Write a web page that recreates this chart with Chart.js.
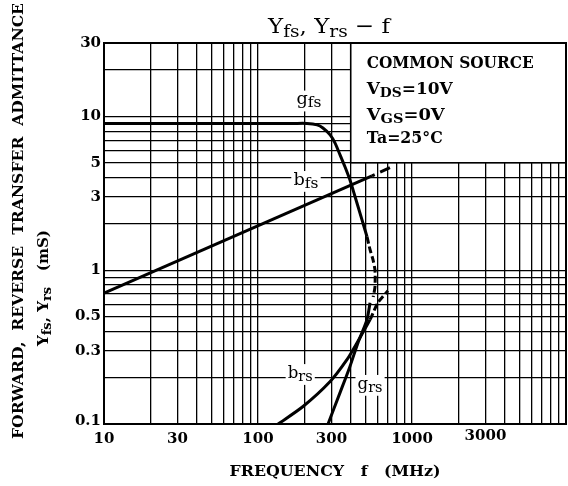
<!DOCTYPE html>
<html><head><meta charset="utf-8">
<script src="https://cdn.jsdelivr.net/npm/chart.js@4/dist/chart.umd.min.js"></script>
<style>html,body{margin:0;padding:0;background:#fff;}canvas{display:block;}</style>
</head><body>
<canvas id="c" width="568" height="486"></canvas>
<script>
// ---- data ----
const xTickLabels = [10, 30, 100, 300, 1000, 3000];
const yTickLabels = [30, 10, 5, 3, 1, 0.5, 0.3, 0.1];

const gfsFreq = [10, 100, 170, 208, 242, 264, 294, 316, 341, 367, 395, 414, 473, 510, 534, 558, 575, 575, 560];
const gfsVal  = [9.0, 9.0, 9.0, 9.0, 8.81, 8.41, 7.58, 6.73, 5.62, 4.70, 3.87, 3.33, 2.13, 1.65, 1.36, 1.17, 1.0, 0.78, 0.67];

const bfsFreq = [10, 550, 719];
const bfsVal  = [0.71, 4.1, 4.65];

const grsFreq = [285, 341, 395, 446, 510, 534];
const grsVal  = [0.1, 0.16, 0.236, 0.338, 0.477, 0.615];

const brsFreq = [135, 196, 294, 378, 440, 534, 601, 698];
const brsVal  = [0.1, 0.13, 0.189, 0.262, 0.338, 0.477, 0.615, 0.736];

const conditions = ['COMMON SOURCE', 'VDS=10V', 'VGS=0V', 'Ta=25°C'];

const FONT = '"DejaVu Serif", "Liberation Serif", serif';

function pts(fx, vy) { return fx.map((f, i) => ({x: f, y: vy[i]})); }
function decadeTicks(lo, hi) {
  const out = [];
  for (let e = -2; e <= 5; e++) {
    for (let m = 1; m <= 9; m++) {
      const v = +(m * Math.pow(10, e)).toPrecision(6);
      if (v >= lo - 1e-9 && v <= hi + 1e-9) out.push({value: v});
    }
  }
  return out;
}

function drawRich(ctx, segs, x, y, o) {
  const size = o.size, weight = o.weight || 'normal';
  const sub = Math.round(size * (o.subRatio || 0.8));
  const off = (o.subOff != null) ? o.subOff : size * 0.24;
  let w = 0; const ws = [];
  for (const [t, s] of segs) {
    ctx.font = `${weight} ${s ? sub : size}px ${FONT}`;
    const m = ctx.measureText(t).width; ws.push(m); w += m;
  }
  const k = o.target ? o.target / w : 1;
  ctx.save();
  ctx.translate(x, y);
  if (o.rotate) ctx.rotate(o.rotate);
  ctx.scale(k, 1);
  let cx = o.align === 'center' ? -w / 2 : (o.align === 'right' ? -w : 0);
  if (o.bg) {
    ctx.fillStyle = '#fff';
    ctx.fillRect(cx - 2, -size * 0.85, w + 4, size * 1.3);
  }
  ctx.fillStyle = '#000';
  ctx.textAlign = 'left';
  ctx.textBaseline = 'alphabetic';
  segs.forEach(([t, s], i) => {
    ctx.font = `${weight} ${s ? sub : size}px ${FONT}`;
    ctx.fillText(t, cx, s ? off : 0);
    cx += ws[i];
  });
  ctx.restore();
}

const curveLabels = [
  {segs: [['g', 0], ['fs', 1]], f: 214, v: 12.0},
  {segs: [['b', 0], ['fs', 1]], f: 205, v: 3.6},
  {segs: [['b', 0], ['rs', 1]], f: 188, v: 0.2},
  {segs: [['g', 0], ['rs', 1]], f: 534, v: 0.17},
];

const decor = {
  id: 'decor',
  beforeDatasetsDraw(chart) {
    const {ctx, scales: {x, y}} = chart;
    // conditions box (white, covering the grid)
    const bx = x.getPixelForValue(400), by = y.getPixelForValue(5);
    const rx = chart.chartArea.right, ty = chart.chartArea.top;
    ctx.save();
    ctx.fillStyle = '#fff';
    ctx.fillRect(bx, ty, rx - bx, by - ty);
    ctx.strokeStyle = '#000'; ctx.lineWidth = 1.6;
    ctx.beginPath(); ctx.moveTo(bx, ty); ctx.lineTo(bx, by); ctx.lineTo(rx, by); ctx.stroke();
    ctx.restore();
    const lx = bx + 16;
    drawRich(ctx, [[conditions[0], 0]], lx, 68, {size: 16, weight: 'bold', target: 167});
    drawRich(ctx, [['V', 0], ['DS', 1], ['=10V', 0]], lx, 94, {size: 16, weight: 'bold', target: 86, subOff: 3});
    drawRich(ctx, [['V', 0], ['GS', 1], ['=0V', 0]], lx, 120, {size: 16, weight: 'bold', target: 78, subOff: 3});
    drawRich(ctx, [['Ta=25°C', 0]], lx, 143, {size: 16, weight: 'bold', target: 76});
    // curve labels
    for (const L of curveLabels) {
      drawRich(ctx, L.segs, x.getPixelForValue(L.f), y.getPixelForValue(L.v),
        {size: 16, weight: 'normal', align: 'center', bg: true, subRatio: 0.88, subOff: 3, target: 25});
    }
  },
  afterDatasetsDraw(chart) {
    const {ctx, chartArea: a, scales: {x, y}} = chart;
    ctx.save();
    ctx.strokeStyle = '#000'; ctx.lineWidth = 2;
    ctx.strokeRect(a.left, a.top, a.right - a.left, a.bottom - a.top);
    ctx.fillStyle = '#000';
    ctx.font = `bold 15px ${FONT}`;
    ctx.textAlign = 'right'; ctx.textBaseline = 'middle';
    for (const v of yTickLabels) {
      let py = y.getPixelForValue(v);
      if (v === 0.1) py -= 3;
      ctx.fillText(String(v), a.left - 3, py);
    }
    ctx.textAlign = 'center';
    for (const v of xTickLabels) {
      const py = v === 3000 ? a.bottom + 12 : a.bottom + 15;
      ctx.fillText(String(v), x.getPixelForValue(v), py);
    }
    ctx.restore();
    // title
    drawRich(ctx, [['Y', 0], ['fs', 1], [', ', 0], ['Y', 0], ['rs', 1], [' \u2212 ', 0], ['f', 0]], 329, 33,
      {size: 21, weight: 'normal', align: 'center', target: 122, subRatio: 0.8, subOff: 4});
    // x axis title
    drawRich(ctx, [['FREQUENCY   f   (MHz)', 0]], 335, 476, {size: 14, weight: 'bold', align: 'center', target: 211});
    // y axis titles
    drawRich(ctx, [['FORWARD,  REVERSE  TRANSFER  ADMITTANCE', 0]], 23, 221, {size: 14, weight: 'bold', align: 'center', rotate: -Math.PI / 2, target: 436});
    drawRich(ctx, [['Y', 0], ['fs', 1], [', ', 0], ['Y', 0], ['rs', 1], ['   (mS)', 0]], 48, 288,
      {size: 14, weight: 'bold', align: 'center', rotate: -Math.PI / 2, target: 116, subRatio: 0.85, subOff: 3});
  }
};

const lineBase = {showLine: true, pointRadius: 0, borderColor: '#000', borderWidth: 3, fill: false, tension: 0.25};

new Chart(document.getElementById('c'), {
  type: 'scatter',
  data: {
    datasets: [
      Object.assign({}, lineBase, {label: 'gfs', data: pts(gfsFreq, gfsVal),
        segment: {borderDash: c => c.p0DataIndex >= 13 ? [7, 3] : undefined}}),
      Object.assign({}, lineBase, {label: 'bfs', data: pts(bfsFreq, bfsVal), tension: 0,
        segment: {borderDash: c => c.p0DataIndex >= 1 ? [3, 6, 14, 2] : undefined}}),
      Object.assign({}, lineBase, {label: 'grs', data: pts(grsFreq, grsVal)}),
      Object.assign({}, lineBase, {label: 'brs', data: pts(brsFreq, brsVal),
        segment: {borderDash: c => c.p0DataIndex >= 5 ? [7, 3] : undefined}}),
    ]
  },
  options: {
    responsive: false, animation: false, devicePixelRatio: 1,
    layout: {padding: {left: 104, right: 2, top: 43, bottom: 62}},
    plugins: {legend: {display: false}, tooltip: {enabled: false}, title: {display: false}},
    scales: {
      x: {type: 'logarithmic', min: 10, max: 10000,
        afterBuildTicks: s => { s.ticks = decadeTicks(10, 10000); },
        ticks: {display: false},
        grid: {color: '#000', lineWidth: 1.3, drawTicks: false},
        border: {display: false}},
      y: {type: 'logarithmic', min: 0.1, max: 30,
        afterBuildTicks: s => { s.ticks = decadeTicks(0.1, 30); },
        ticks: {display: false},
        grid: {color: '#000', lineWidth: 1.3, drawTicks: false},
        border: {display: false}}
    }
  },
  plugins: [decor]
});
</script>
</body></html>
